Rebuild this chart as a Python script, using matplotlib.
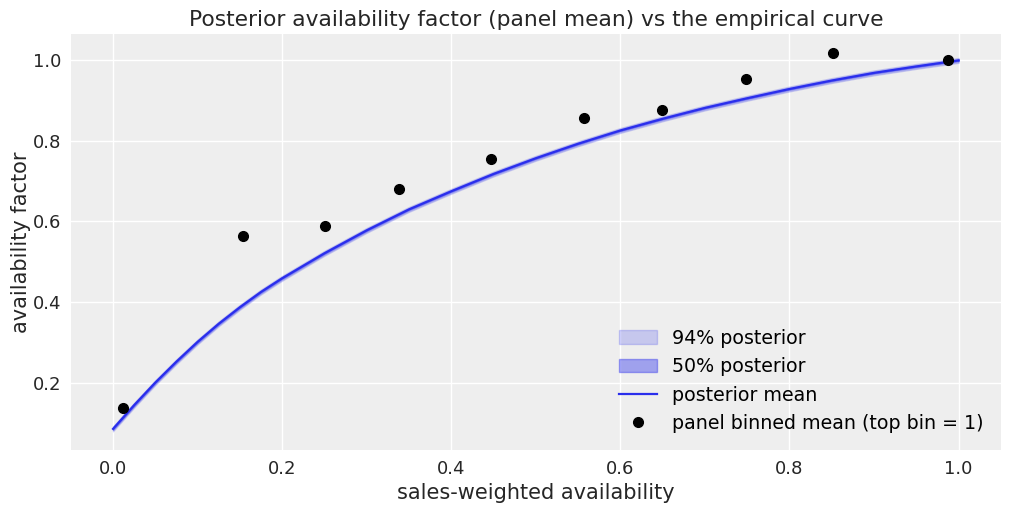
import matplotlib
matplotlib.use("Agg")
import matplotlib.pyplot as plt

# posterior mean of the availability factor
avail_x = [0.0, 0.025, 0.05, 0.075, 0.1, 0.125, 0.15, 0.175, 0.2, 0.25,
           0.3, 0.35, 0.4, 0.45, 0.5, 0.55, 0.6, 0.65, 0.7, 0.75,
           0.8, 0.85, 0.9, 0.95, 1.0]
post_mean = [0.085, 0.144, 0.200, 0.252, 0.301, 0.346, 0.387, 0.425, 0.459, 0.521,
             0.578, 0.630, 0.675, 0.718, 0.757, 0.793, 0.826, 0.855, 0.882, 0.906,
             0.929, 0.950, 0.969, 0.985, 1.0]
hdi94_half = 0.006
hdi50_half = 0.002

# binned panel means
bin_x = [0.012, 0.154, 0.251, 0.338, 0.447, 0.557, 0.649, 0.748, 0.851, 0.988]
bin_y = [0.138, 0.564, 0.589, 0.681, 0.754, 0.858, 0.876, 0.953, 1.018, 1.0]

blue = "#2a2eec"
txt = "#262626"

plt.rcParams["font.family"] = "DejaVu Sans"
fig = plt.figure(figsize=(10.11, 5.11), dpi=100)
ax = fig.add_axes([0.070, 0.119, 0.920, 0.814])
ax.set_facecolor("#eeeeee")
for s in ax.spines.values():
    s.set_visible(False)
ax.grid(True, color="white", linewidth=1.0)
ax.set_axisbelow(True)

lo94 = [m - hdi94_half for m in post_mean]
hi94 = [m + hdi94_half for m in post_mean]
lo50 = [m - hdi50_half for m in post_mean]
hi50 = [m + hdi50_half for m in post_mean]
ax.fill_between(avail_x, lo94, hi94, color=blue, alpha=0.2, label="94% posterior")
ax.fill_between(avail_x, lo50, hi50, color=blue, alpha=0.4, label="50% posterior")
ax.plot(avail_x, post_mean, color=blue, lw=1.6, label="posterior mean")
ax.plot(bin_x, bin_y, "o", color="black", ms=7, label="panel binned mean (top bin = 1)")

ax.set_title("Posterior availability factor (panel mean) vs the empirical curve",
             fontsize=15.7, color=txt)
ax.set_xlabel("sales-weighted availability", fontsize=15, color=txt)
ax.set_ylabel("availability factor", fontsize=15, color=txt, labelpad=1)
ax.tick_params(length=0, labelsize=13, labelcolor=txt, pad=7)
ax.set_yticks([0.2, 0.4, 0.6, 0.8, 1.0])
ax.legend(loc="lower right", frameon=False, fontsize=13.7)

fig.savefig("out.png", dpi=100)
